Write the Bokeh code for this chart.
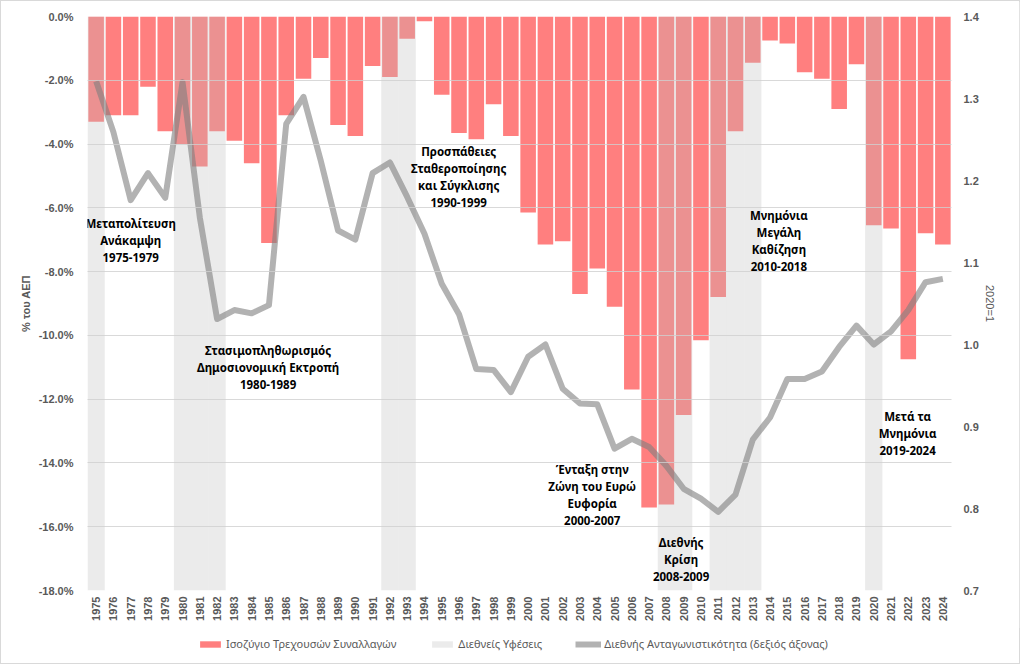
import math
from bokeh.plotting import figure
from bokeh.layouts import column
from bokeh.models import (ColumnDataSource, LinearAxis, Range1d, FixedTicker,
                          PrintfTickFormatter, Legend, LegendItem, LabelSet)
from bokeh.core.properties import value
from bokeh.embed import file_html
from bokeh.resources import INLINE

# ---------------- data ----------------
years = list(range(1975, 2025))
ca_balance = [-3.3, -3.1, -3.1, -2.2, -3.6, -4.0, -4.7, -3.6, -3.9, -4.6,
              -7.1, -3.1, -1.95, -1.3, -3.4, -3.75, -1.55, -1.9, -0.7, -0.15,
              -2.45, -3.65, -3.85, -2.75, -3.75, -6.15, -7.15, -7.05, -8.7, -7.9,
              -9.1, -11.7, -15.4, -15.3, -12.5, -10.15, -8.8, -3.6, -1.45, -0.75,
              -0.85, -1.75, -1.95, -2.9, -1.5, -6.55, -6.65, -10.75, -6.8, -7.15]
competitiveness = [1.321, 1.259, 1.176, 1.209, 1.179, 1.320, 1.155, 1.031, 1.042, 1.038,
                   1.048, 1.269, 1.302, 1.224, 1.139, 1.128, 1.209, 1.222, 1.180, 1.135,
                   1.074, 1.037, 0.970, 0.969, 0.942, 0.985, 1.000, 0.946, 0.928, 0.927,
                   0.873, 0.885, 0.875, 0.852, 0.824, 0.812, 0.796, 0.817, 0.884, 0.911,
                   0.958, 0.958, 0.967, 0.997, 1.023, 1.000, 1.016, 1.042, 1.076, 1.080]
recession_years = [1975, 1980, 1981, 1982, 1992, 1993, 2008, 2009, 2011, 2012, 2013, 2020]
left_ticks = [0, -2, -4, -6, -8, -10, -12, -14, -16, -18]
right_ticks = [0.7, 0.8, 0.9, 1.0, 1.1, 1.2, 1.3, 1.4]

series_names = ["Ισοζύγιο Τρεχουσών Συναλλαγών", "Διεθνείς Υφέσεις",
                "Διεθνής Ανταγωνιστικότητα (δεξιός άξονας)"]

period_labels = [
    "Μεταπολίτευση\nΑνάκαμψη\n1975-1979",
    "Στασιμοπληθωρισμός\nΔημοσιονομική Εκτροπή\n1980-1989",
    "Προσπάθειες\nΣταθεροποίησης\nκαι Σύγκλισης\n1990-1999",
    "Ένταξη στην\nΖώνη του Ευρώ\nΕυφορία\n2000-2007",
    "Διεθνής\nΚρίση\n2008-2009",
    "Μνημόνια\nΜεγάλη\nΚαθίζηση\n2010-2018",
    "Μετά τα\nΜνημόνια\n2019-2024",
]
# label anchor: first-line centre (x in years, y in % of left axis)
label_x = [1977.0, 1984.95, 1995.98, 2003.71, 2008.85, 2014.51, 2021.96]
label_y = [-6.49, -10.47, -4.22, -14.2, -16.49, -6.24, -12.54]

# ---------------- styles ----------------
TICK_FONT = "Liberation Sans"
GREY = "#595959"
BAR_COLOR = "#FF7F7F"
SHADE_COLOR = "#BEBEBE"
LINE_COLOR = "#7F7F7F"
LINE_STEP = 17  # px between annotation lines

p = figure(frame_width=866, frame_height=574,
           x_range=Range1d(1974.5, 2024.5), y_range=Range1d(-18, 0),
           output_backend="svg", toolbar_location=None,
           min_border_left=86, min_border_right=68, min_border_top=15,
           min_border_bottom=38, background_fill_color="white",
           border_fill_color="white")
p.outline_line_color = None
p.extra_y_ranges = {"comp": Range1d(0.7, 1.4)}

bars = p.vbar(x=years, top=ca_balance, bottom=0, width=0.9,
              fill_color=BAR_COLOR, line_color=None)
shade = p.vbar(x=recession_years, top=0, bottom=-18, width=1.0,
               fill_color=SHADE_COLOR, fill_alpha=0.3, line_color=None)
line = p.line(x=years, y=competitiveness, y_range_name="comp",
              line_color=LINE_COLOR, line_alpha=0.6, line_width=6,
              line_join="round")

# one label per text line, each centred
lx, ly, lt, loff = [], [], [], []
for x0, y0, txt in zip(label_x, label_y, period_labels):
    for i, part in enumerate(txt.split("\n")):
        lx.append(x0)
        ly.append(y0)
        lt.append(part)
        loff.append(-LINE_STEP * i)
src = ColumnDataSource(dict(x=lx, y=ly, t=lt, off=loff))
labels = LabelSet(x="x", y="y", text="t", y_offset="off", source=src,
                  text_align="center", text_baseline="middle",
                  text_font=value("Noto Sans"), text_font_style="bold",
                  text_font_size="11.5px", text_color="black")
p.add_layout(labels)

# grid
p.xgrid.grid_line_color = None
p.ygrid.ticker = FixedTicker(ticks=left_ticks)
p.ygrid.grid_line_color = "#D0D0D0"
p.ygrid.grid_line_alpha = 0.8
p.ygrid.level = "overlay"

# axes styling
def style_axis(ax):
    ax.axis_line_color = None
    ax.major_tick_line_color = None
    ax.minor_tick_line_color = None
    ax.major_tick_out = 0
    ax.major_tick_in = 0
    ax.major_label_text_font = TICK_FONT
    ax.major_label_text_font_style = "bold"
    ax.major_label_text_font_size = "11px"
    ax.major_label_text_color = GREY
    ax.axis_label_text_font = TICK_FONT
    ax.axis_label_text_font_size = "11px"
    ax.axis_label_text_color = GREY

xa = p.xaxis[0]
style_axis(xa)
xa.ticker = FixedTicker(ticks=years)
xa.major_label_orientation = math.pi / 2
xa.major_label_standoff = 6

ya = p.yaxis[0]
style_axis(ya)
ya.ticker = FixedTicker(ticks=left_ticks)
ya.formatter = PrintfTickFormatter(format="%.1f%%")
ya.major_label_standoff = 14
ya.axis_label = "% του ΑΕΠ"
ya.axis_label_text_font_style = "bold"
ya.axis_label_standoff = 4

ra = LinearAxis(y_range_name="comp")
style_axis(ra)
ra.ticker = FixedTicker(ticks=right_ticks)
ra.formatter = PrintfTickFormatter(format="%.1f")
ra.major_label_standoff = 12
ra.axis_label = "2020=1"
ra.axis_label_text_font_style = "normal"
ra.axis_label_standoff = 2
p.add_layout(ra, "right")

# ---------------- legend strip ----------------
# same series drawn again, outside the strip's visible ranges; only their
# legend swatches show
lf = figure(width=1020, height=35, x_range=Range1d(0, 1), y_range=Range1d(0, 1),
            output_backend="svg", toolbar_location=None,
            x_axis_type=None, y_axis_type=None,
            min_border=0, background_fill_color="white", border_fill_color="white")
lf.outline_line_color = None
lf.xgrid.grid_line_color = None
lf.ygrid.grid_line_color = None
r1 = lf.vbar(x=years, top=ca_balance, width=0.9, fill_color=BAR_COLOR,
             line_color=None)
r2 = lf.vbar(x=recession_years, top=0, bottom=-18, width=1.0,
             fill_color=SHADE_COLOR, fill_alpha=0.3, line_color=None)
r3 = lf.line(x=years, y=competitiveness, line_color=LINE_COLOR, line_alpha=0.6,
             line_width=6)
legend = Legend(items=[LegendItem(label=series_names[0], renderers=[r1]),
                       LegendItem(label=series_names[1], renderers=[r2]),
                       LegendItem(label=series_names[2], renderers=[r3])],
                orientation="horizontal", location=(110, 12),
                border_line_color=None, background_fill_alpha=0,
                label_text_font="Noto Sans", label_text_font_size="11px",
                label_text_color=GREY, glyph_width=26, glyph_height=8,
                label_standoff=3, spacing=33, padding=0, margin=0)
lf.add_layout(legend, "center")

layout = column(p, lf, spacing=0)
layout.styles = {"border": "1px solid #D9D9D9", "width": "1020px"}

open("out.html", "w").write(file_html(layout, INLINE))
